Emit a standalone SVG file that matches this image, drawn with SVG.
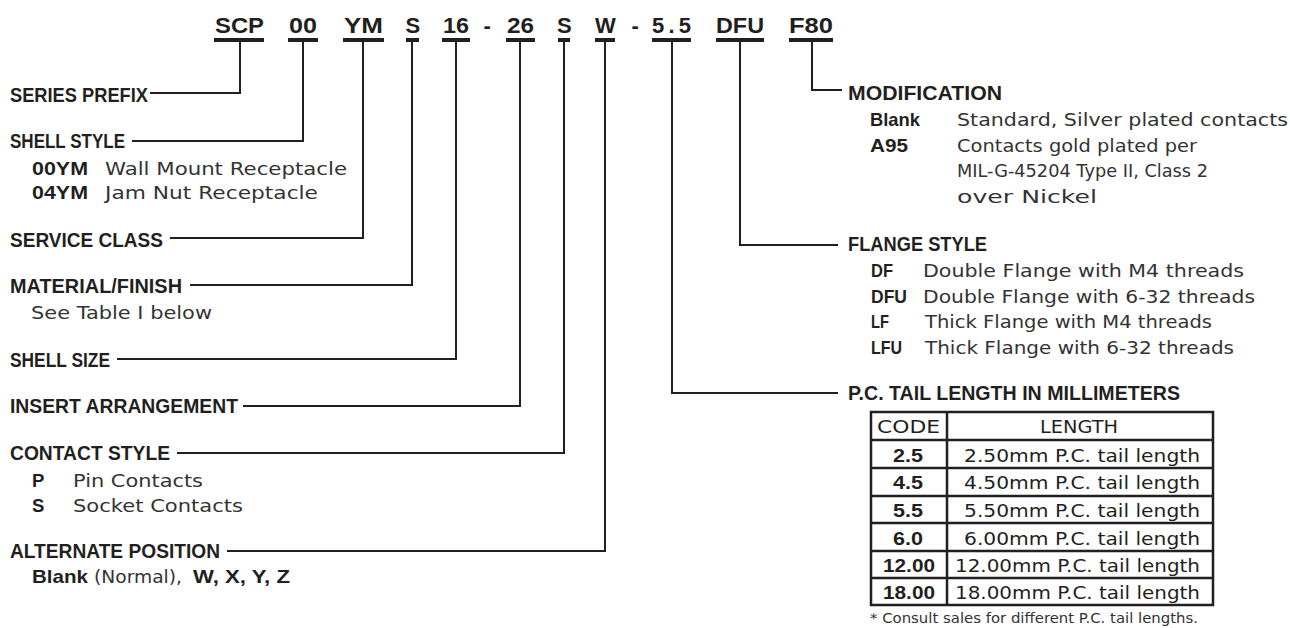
<svg xmlns="http://www.w3.org/2000/svg" width="1290" height="628" viewBox="0 0 1290 628">
<style>
.pn{font-family:"Liberation Sans",Arial,sans-serif;font-weight:bold;font-size:22px;fill:#231f20}
.hd{font-family:"Liberation Sans",Arial,sans-serif;font-weight:bold;font-size:20px;fill:#231f20}
.cd{font-family:"Liberation Sans",Arial,sans-serif;font-weight:bold;font-size:18.5px;fill:#231f20}
.tx{font-family:"DejaVu Sans",Verdana,sans-serif;font-size:18px;fill:#333}
.tb{font-family:"DejaVu Sans",Verdana,sans-serif;font-size:18px;fill:#231f20}
.tbb{font-family:"Liberation Sans",Arial,sans-serif;font-weight:bold;font-size:19px;fill:#231f20}
.fn{font-family:"DejaVu Sans",Verdana,sans-serif;font-size:13.5px;fill:#333}
.bar{fill:#231f20}
.conn{fill:none;stroke:#231f20;stroke-width:2}
.grid{fill:none;stroke:#231f20;stroke-width:2.5}
</style>
<rect width="1290" height="628" fill="#fff"/>

<g id="part-number">
  <g id="pn-scp"><text class="pn" x="215" y="33" textLength="49" lengthAdjust="spacingAndGlyphs">SCP</text><rect class="bar" x="214" y="38" width="50" height="4"/></g>
  <g id="pn-00"><text class="pn" x="289" y="33" textLength="28" lengthAdjust="spacingAndGlyphs">00</text><rect class="bar" x="288" y="38" width="30" height="4"/></g>
  <g id="pn-ym"><text class="pn" x="344" y="33" textLength="39" lengthAdjust="spacingAndGlyphs">YM</text><rect class="bar" x="343" y="38" width="41" height="4"/></g>
  <g id="pn-s1"><text class="pn" x="405.5" y="33">S</text><rect class="bar" x="406" y="38" width="13" height="4"/></g>
  <g id="pn-16"><text class="pn" x="443" y="33" textLength="26" lengthAdjust="spacingAndGlyphs">16</text><rect class="bar" x="442" y="38" width="28" height="4"/></g>
  <text class="pn" x="483.5" y="33">-</text>
  <g id="pn-26"><text class="pn" x="507" y="33" textLength="27" lengthAdjust="spacingAndGlyphs">26</text><rect class="bar" x="506" y="38" width="29" height="4"/></g>
  <g id="pn-s2"><text class="pn" x="557" y="33">S</text><rect class="bar" x="558" y="38" width="12" height="4"/></g>
  <g id="pn-w"><text class="pn" x="595" y="33">W</text><rect class="bar" x="595" y="38" width="20" height="4"/></g>
  <text class="pn" x="631.5" y="33">-</text>
  <g id="pn-55"><text class="pn" x="652" y="33" textLength="39" lengthAdjust="spacing">5.5</text><rect class="bar" x="652" y="38" width="39" height="4"/></g>
  <g id="pn-dfu"><text class="pn" x="716" y="33" textLength="48" lengthAdjust="spacingAndGlyphs">DFU</text><rect class="bar" x="716" y="38" width="48" height="4"/></g>
  <g id="pn-f80"><text class="pn" x="789" y="33" textLength="44" lengthAdjust="spacingAndGlyphs">F80</text><rect class="bar" x="789" y="38" width="44" height="4"/></g>
</g>

<g id="connectors">
  <path class="conn" d="M240,42 V93 H150"/>
  <path class="conn" d="M303,42 V141 H132"/>
  <path class="conn" d="M363,42 V238 H170"/>
  <path class="conn" d="M412,42 V285 H190"/>
  <path class="conn" d="M456,42 V359 H117"/>
  <path class="conn" d="M520,42 V406 H243"/>
  <path class="conn" d="M564,42 V453 H177"/>
  <path class="conn" d="M605,42 V551 H227"/>
  <path class="conn" d="M672,42 V393 H838"/>
  <path class="conn" d="M740,42 V245 H838"/>
  <path class="conn" d="M812,42 V90 H842"/>
</g>

<g id="series-prefix">
  <text class="hd" x="10" y="102" textLength="138" lengthAdjust="spacingAndGlyphs">SERIES PREFIX</text>
</g>
<g id="shell-style">
  <text class="hd" x="10" y="148" textLength="115" lengthAdjust="spacingAndGlyphs">SHELL STYLE</text>
  <text class="cd" x="32" y="175" textLength="56" lengthAdjust="spacingAndGlyphs">00YM</text>
  <text class="tx" x="105" y="175" textLength="242" lengthAdjust="spacingAndGlyphs">Wall Mount Receptacle</text>
  <text class="cd" x="32" y="199" textLength="56" lengthAdjust="spacingAndGlyphs">04YM</text>
  <text class="tx" x="105" y="199" textLength="213" lengthAdjust="spacingAndGlyphs">Jam Nut Receptacle</text>
</g>
<g id="service-class">
  <text class="hd" x="10" y="247" textLength="153" lengthAdjust="spacingAndGlyphs">SERVICE CLASS</text>
</g>
<g id="material-finish">
  <text class="hd" x="10" y="293" textLength="172" lengthAdjust="spacingAndGlyphs">MATERIAL/FINISH</text>
  <text class="tx" x="31" y="319" textLength="181" lengthAdjust="spacingAndGlyphs">See Table I below</text>
</g>
<g id="shell-size">
  <text class="hd" x="10" y="367" textLength="100" lengthAdjust="spacingAndGlyphs">SHELL SIZE</text>
</g>
<g id="insert-arrangement">
  <text class="hd" x="10" y="413" textLength="228" lengthAdjust="spacingAndGlyphs">INSERT ARRANGEMENT</text>
</g>
<g id="contact-style">
  <text class="hd" x="10" y="460" textLength="160" lengthAdjust="spacingAndGlyphs">CONTACT STYLE</text>
  <text class="cd" x="32" y="487">P</text>
  <text class="tx" x="73" y="487" textLength="130" lengthAdjust="spacingAndGlyphs">Pin Contacts</text>
  <text class="cd" x="32" y="512">S</text>
  <text class="tx" x="73" y="512" textLength="170" lengthAdjust="spacingAndGlyphs">Socket Contacts</text>
</g>
<g id="alternate-position">
  <text class="hd" x="10" y="558" textLength="210" lengthAdjust="spacingAndGlyphs">ALTERNATE POSITION</text>
  <text x="32" y="583"><tspan class="cd" textLength="56" lengthAdjust="spacingAndGlyphs">Blank</tspan><tspan class="tx" x="94" textLength="88" lengthAdjust="spacingAndGlyphs">(Normal),</tspan><tspan class="cd" x="193" textLength="97" lengthAdjust="spacingAndGlyphs">W, X, Y, Z</tspan></text>
</g>

<g id="modification">
  <text class="hd" x="848" y="100" textLength="154" lengthAdjust="spacingAndGlyphs">MODIFICATION</text>
  <text class="cd" x="870" y="126" textLength="50" lengthAdjust="spacingAndGlyphs">Blank</text>
  <text class="tx" x="957" y="126" textLength="331" lengthAdjust="spacingAndGlyphs">Standard, Silver plated contacts</text>
  <text class="cd" x="870" y="152" textLength="38" lengthAdjust="spacingAndGlyphs">A95</text>
  <text class="tx" x="957" y="152" textLength="240" lengthAdjust="spacingAndGlyphs">Contacts gold plated per</text>
  <text class="tx" x="957" y="177" textLength="251" lengthAdjust="spacingAndGlyphs">MIL-G-45204 Type II, Class 2</text>
  <text class="tx" x="957" y="203" textLength="140" lengthAdjust="spacingAndGlyphs">over Nickel</text>
</g>

<g id="flange-style">
  <text class="hd" x="848" y="251" textLength="139" lengthAdjust="spacingAndGlyphs">FLANGE STYLE</text>
  <text class="cd" x="871" y="277" textLength="22" lengthAdjust="spacingAndGlyphs">DF</text>
  <text class="tx" x="923" y="277" textLength="321" lengthAdjust="spacingAndGlyphs">Double Flange with M4 threads</text>
  <text class="cd" x="871" y="303" textLength="36" lengthAdjust="spacingAndGlyphs">DFU</text>
  <text class="tx" x="923" y="303" textLength="332" lengthAdjust="spacingAndGlyphs">Double Flange with 6-32 threads</text>
  <text class="cd" x="871" y="328" textLength="18" lengthAdjust="spacingAndGlyphs">LF</text>
  <text class="tx" x="925" y="328" textLength="287" lengthAdjust="spacingAndGlyphs">Thick Flange with M4 threads</text>
  <text class="cd" x="871" y="354" textLength="31" lengthAdjust="spacingAndGlyphs">LFU</text>
  <text class="tx" x="925" y="354" textLength="309" lengthAdjust="spacingAndGlyphs">Thick Flange with 6-32 threads</text>
</g>

<g id="pc-tail-length">
  <text class="hd" x="848" y="400" textLength="332" lengthAdjust="spacingAndGlyphs">P.C. TAIL LENGTH IN MILLIMETERS</text>
  <g id="tail-table">
    <rect class="grid" x="871" y="412" width="342" height="193"/>
    <path class="grid" d="M947,412 V605 M871,440 H1213 M871,468 H1213 M871,496 H1213 M871,523 H1213 M871,551 H1213 M871,578 H1213"/>
    <text class="tb" x="877" y="433" textLength="63" lengthAdjust="spacingAndGlyphs">CODE</text>
    <text class="tb" x="1040" y="433" textLength="78" lengthAdjust="spacingAndGlyphs">LENGTH</text>
    <text class="tbb" x="893" y="462" textLength="30" lengthAdjust="spacingAndGlyphs">2.5</text>
    <text class="tb" x="964" y="462" textLength="236" lengthAdjust="spacingAndGlyphs">2.50mm P.C. tail length</text>
    <text class="tbb" x="893" y="489" textLength="30" lengthAdjust="spacingAndGlyphs">4.5</text>
    <text class="tb" x="964" y="489" textLength="236" lengthAdjust="spacingAndGlyphs">4.50mm P.C. tail length</text>
    <text class="tbb" x="893" y="517" textLength="30" lengthAdjust="spacingAndGlyphs">5.5</text>
    <text class="tb" x="964" y="517" textLength="236" lengthAdjust="spacingAndGlyphs">5.50mm P.C. tail length</text>
    <text class="tbb" x="893" y="545" textLength="30" lengthAdjust="spacingAndGlyphs">6.0</text>
    <text class="tb" x="964" y="545" textLength="236" lengthAdjust="spacingAndGlyphs">6.00mm P.C. tail length</text>
    <text class="tbb" x="883" y="572" textLength="52" lengthAdjust="spacingAndGlyphs">12.00</text>
    <text class="tb" x="955" y="572" textLength="245" lengthAdjust="spacingAndGlyphs">12.00mm P.C. tail length</text>
    <text class="tbb" x="883" y="599" textLength="52" lengthAdjust="spacingAndGlyphs">18.00</text>
    <text class="tb" x="955" y="599" textLength="245" lengthAdjust="spacingAndGlyphs">18.00mm P.C. tail length</text>
  </g>
  <text class="fn" x="870" y="623" textLength="328" lengthAdjust="spacingAndGlyphs">* Consult sales for different P.C. tail lengths.</text>
</g>
</svg>
